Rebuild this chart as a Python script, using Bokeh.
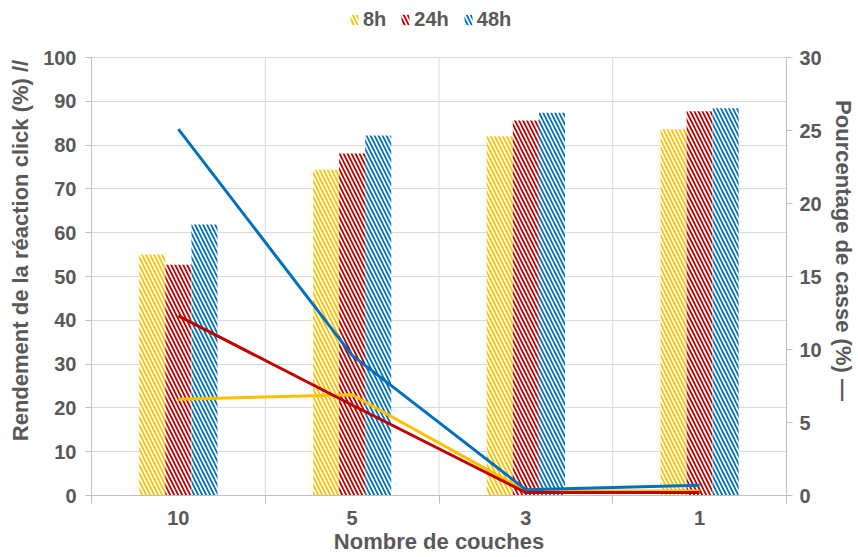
import numpy as np
from bokeh.plotting import figure
from bokeh.models import (Range1d, LinearAxis, FixedTicker, Legend, LegendItem,
                          ColumnDataSource)
from bokeh.transform import dodge
from bokeh.embed import file_html
from bokeh.resources import INLINE

categories = ["10", "5", "3", "1"]
series = ["8h", "24h", "48h"]
colors = ["#FFC000", "#C00000", "#0070C0"]

rend_8h = [55.0, 74.4, 82.0, 83.6]
rend_24h = [52.7, 78.1, 85.6, 87.7]
rend_48h = [61.9, 82.2, 87.4, 88.4]

casse_8h = [6.6, 6.9, 0.3, 0.3]
casse_24h = [12.3, 6.2, 0.2, 0.2]
casse_48h = [25.1, 9.6, 0.4, 0.7]

left_ticks = list(range(0, 101, 10))
right_ticks = list(range(0, 31, 5))

xc = np.arange(len(categories)) + 0.5
bounds = list(np.arange(len(categories) + 1).astype(float))

src = ColumnDataSource(dict(x=xc, r8=rend_8h, r24=rend_24h, r48=rend_48h,
                            c8=casse_8h, c24=casse_24h, c48=casse_48h))

GREY = "#595959"
FONT = "Liberation Sans"

# frame extends above the value area to host the legend
FRAME_H = 490
DATA_H = 438
stretch = FRAME_H / DATA_H

p = figure(width=858, height=557, output_backend="svg",
           toolbar_location=None,
           x_range=Range1d(0, len(categories)),
           y_range=Range1d(0, left_ticks[-1] * stretch),
           min_border_left=91, min_border_right=71, min_border_top=5,
           min_border_bottom=62)
p.extra_y_ranges = {"casse": Range1d(0, right_ticks[-1] * stretch)}
p.outline_line_color = None
p.background_fill_color = "white"
p.border_fill_color = "white"

# vertical category separators
p.segment(x0=bounds, x1=bounds, y0=[left_ticks[0]] * len(bounds),
          y1=[left_ticks[-1]] * len(bounds), line_color="#d9d9d9", line_width=1)

bar_w = 0.15
offsets = [-bar_w, 0.0, bar_w]
rcols = ["r8", "r24", "r48"]
ccols = ["c8", "c24", "c48"]
items = []
for name, col, off, rc in zip(series, colors, offsets, rcols):
    r = p.vbar(x=dodge("x", off), top=rc, width=bar_w, source=src,
               fill_color="white", line_color=None,
               hatch_pattern="left_diagonal_line", hatch_color=col,
               hatch_weight=1.8, hatch_scale=8)
    items.append(LegendItem(label=name, renderers=[r]))

for col, cc in zip(colors, ccols):
    p.line(x="x", y=cc, source=src, line_color=col, line_width=3,
           y_range_name="casse")

# axes styling
xa = p.xaxis[0]
xa.ticker = FixedTicker(ticks=list(xc), minor_ticks=bounds)
xa.major_label_overrides = {float(v): c for v, c in zip(xc, categories)}
xa.major_tick_line_color = None
xa.major_tick_out = 8
xa.major_tick_in = 0
xa.minor_tick_line_color = "#bfbfbf"
xa.minor_tick_out = 8
xa.minor_tick_in = 0
xa.axis_line_color = "#bfbfbf"
xa.axis_label = "Nombre de couches"
xa.major_label_standoff = 7
xa.axis_label_standoff = 1

ya = p.yaxis[0]
ya.ticker = FixedTicker(ticks=left_ticks)
ya.bounds = (left_ticks[0], left_ticks[-1])
ya.axis_line_color = "#bfbfbf"
ya.major_tick_line_color = "#bfbfbf"
ya.major_tick_out = 6
ya.major_tick_in = 0
ya.minor_tick_line_color = None
ya.axis_label = "Rendement de la réaction click (%) //"
ya.major_label_standoff = 9
ya.axis_label_standoff = 7

ra = LinearAxis(y_range_name="casse", ticker=FixedTicker(ticks=right_ticks),
                axis_label="Pourcentage de casse (%) —",
                bounds=(right_ticks[0], right_ticks[-1]))
ra.axis_line_color = "#bfbfbf"
ra.major_tick_line_color = "#bfbfbf"
ra.major_tick_out = 6
ra.major_tick_in = 0
ra.minor_tick_line_color = None
ra.major_label_standoff = 7
ra.axis_label_standoff = 6
p.add_layout(ra, "right")

for ax in [xa, ya, ra]:
    ax.major_label_text_font = FONT
    ax.major_label_text_font_style = "bold"
    ax.major_label_text_font_size = "20px"
    ax.major_label_text_color = GREY
    ax.axis_label_text_font = FONT
    ax.axis_label_text_font_style = "bold"
    ax.axis_label_text_font_size = "22px"
    ax.axis_label_text_color = GREY

p.ygrid.ticker = FixedTicker(ticks=left_ticks)
p.ygrid.grid_line_color = "#d9d9d9"
p.xgrid.grid_line_color = None

legend = Legend(items=items, orientation="horizontal", location=(258, 464),
                label_text_font=FONT, label_text_font_style="bold",
                label_text_font_size="20px", label_text_color=GREY,
                glyph_width=10, glyph_height=13, spacing=14, label_standoff=4,
                border_line_color=None, background_fill_alpha=0,
                padding=0, margin=0)
p.add_layout(legend, "center")

open("out.html", "w").write(file_html(p, INLINE))
